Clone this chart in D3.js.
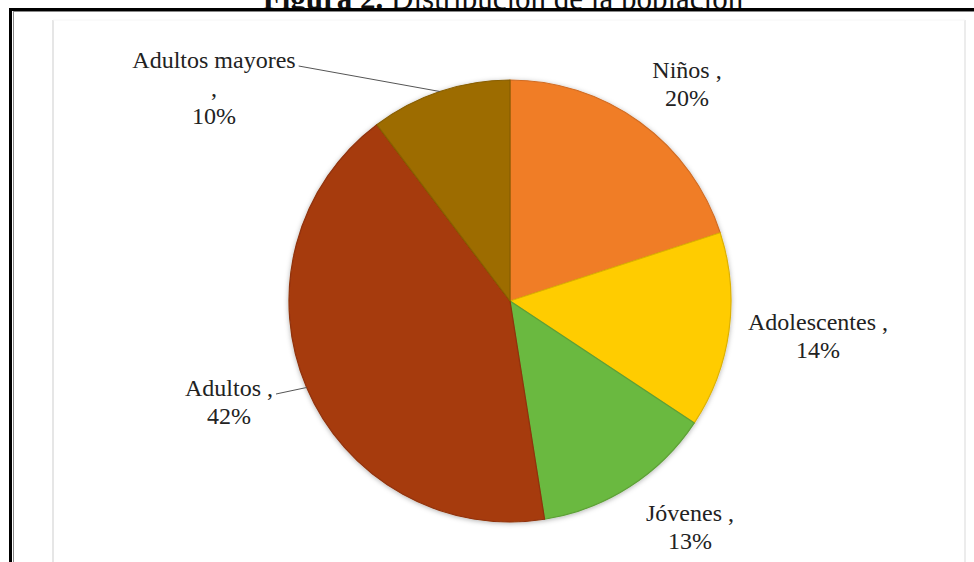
<!DOCTYPE html>
<html>
<head>
<meta charset="utf-8">
<script src="https://cdn.jsdelivr.net/npm/d3@7"></script>
<style>
  body { margin: 0; background: #fff; }
  svg { display: block; }
  svg text { font-family: "Liberation Serif", "DejaVu Serif", "Times New Roman", serif; }
</style>
</head>
<body>
<svg id="pieChart" width="974" height="562"></svg>
<script>
  // datos (porcentaje de la poblacion)
  const categories = ["Niños", "Adolescentes", "Jóvenes", "Adultos", "Adultos mayores"];
  const shares = [20, 14.3, 13.2, 42.2, 10.3];
  const colors = ["#F07D28", "#FFCC00", "#6BB93F", "#A63A09", "#9D6C00"];

  // posicion de las etiquetas respecto al centro de la torta (layout, no datos)
  const labelLayout = [
    { dx: 177, dy: -223, lines: ["Niños ,"], leader: false },
    { dx: 308, dy: 29, lines: ["Adolescentes ,"], leader: false },
    { dx: 180, dy: 220, lines: ["Jóvenes ,"], leader: false },
    { dx: -281, dy: 95, lines: ["Adultos ,"], leader: true },
    { dx: -296, dy: -233, lines: ["Adultos mayores", ","], leader: true }
  ];

  function renderPie() {
    const svg = d3.select("#pieChart");
    svg.selectAll("*").remove();

    const width = +svg.attr("width"), height = +svg.attr("height");
    const cx = 510, cy = 301, radius = 221;
    const lineH = 28;

    const defs = svg.append("defs");
    defs.append("clipPath").attr("id", "titleClip")
      .append("rect").attr("x", 0).attr("y", 0).attr("width", width).attr("height", 8);
    const shadow = defs.append("filter").attr("id", "pieShadow")
      .attr("x", "-10%").attr("y", "-10%").attr("width", "120%").attr("height", "120%");
    shadow.append("feDropShadow")
      .attr("dx", 0).attr("dy", 1).attr("stdDeviation", 2.5)
      .attr("flood-color", "#000").attr("flood-opacity", 0.3);

    // titulo (cortado en la parte superior, como en la figura)
    const title = svg.append("text")
      .attr("clip-path", "url(#titleClip)")
      .attr("x", 503).attr("y", 9)
      .attr("text-anchor", "middle")
      .attr("font-size", "31px")
      .attr("fill", "#111");
    title.append("tspan").attr("font-weight", "bold").text("Figura 2.");
    title.append("tspan").text(" Distribución de la población");

    // marco
    svg.append("line").attr("x1", 53).attr("x2", 53).attr("y1", 20).attr("y2", height)
      .attr("stroke", "#dedede").attr("stroke-width", 1.5);
    svg.append("line").attr("x1", 965).attr("x2", 965).attr("y1", 20).attr("y2", height)
      .attr("stroke", "#ececec").attr("stroke-width", 2);
    svg.append("line").attr("x1", 53).attr("x2", 965).attr("y1", 20).attr("y2", 20)
      .attr("stroke", "#f6f6f6").attr("stroke-width", 1);
    svg.append("line").attr("x1", 13).attr("x2", width).attr("y1", 11.5).attr("y2", 11.5)
      .attr("stroke", "#888").attr("stroke-width", 1);
    svg.append("line").attr("x1", 13.5).attr("x2", 13.5).attr("y1", 12).attr("y2", height)
      .attr("stroke", "#888").attr("stroke-width", 1);
    svg.append("line").attr("x1", 9).attr("x2", width).attr("y1", 9.5).attr("y2", 9.5)
      .attr("stroke", "#000").attr("stroke-width", 3);
    svg.append("line").attr("x1", 10.5).attr("x2", 10.5).attr("y1", 8).attr("y2", height)
      .attr("stroke", "#000").attr("stroke-width", 3);

    const data = categories.map((c, i) => ({ label: c, value: shares[i], color: colors[i], layout: labelLayout[i] }));
    const total = d3.sum(data, d => d.value);
    const pct = d3.format(".0%");

    const pie = d3.pie().value(d => d.value).sort(null).startAngle(0).endAngle(2 * Math.PI);
    const arc = d3.arc().innerRadius(0).outerRadius(radius);
    const edgeArc = d3.arc().innerRadius(radius).outerRadius(radius);

    const g = svg.append("g").attr("transform", `translate(${cx},${cy})`);

    g.append("g").attr("filter", "url(#pieShadow)")
      .selectAll("path")
      .data(pie(data))
      .enter().append("path")
      .attr("d", arc)
      .attr("fill", d => d.data.color)
      .attr("stroke", d => d3.color(d.data.color).darker(0.4))
      .attr("stroke-width", 1.2)
      .attr("stroke-linejoin", "round");

    // etiquetas
    const labels = g.selectAll("g.lbl")
      .data(pie(data))
      .enter().append("g")
      .attr("class", "lbl");

    labels.each(function(d) {
      const lay = d.data.layout;
      const t = d3.select(this).append("text")
        .attr("text-anchor", "middle")
        .attr("font-size", "24px")
        .attr("fill", "#222");
      const lines = lay.lines.concat([pct(d.data.value / total)]);
      lines.forEach((ln, k) => {
        t.append("tspan").attr("x", lay.dx).attr("y", lay.dy + k * lineH).text(ln);
      });

      if (lay.leader) {
        const firstW = t.select("tspan").node().getComputedTextLength();
        const end = edgeArc.centroid(d);
        d3.select(this).append("line")
          .attr("x1", lay.dx + firstW / 2 + 3).attr("y1", lay.dy - 2)
          .attr("x2", end[0]).attr("y2", end[1])
          .attr("stroke", "#555").attr("stroke-width", 1);
      }
    });
  }

  renderPie();
</script>
</body>
</html>
